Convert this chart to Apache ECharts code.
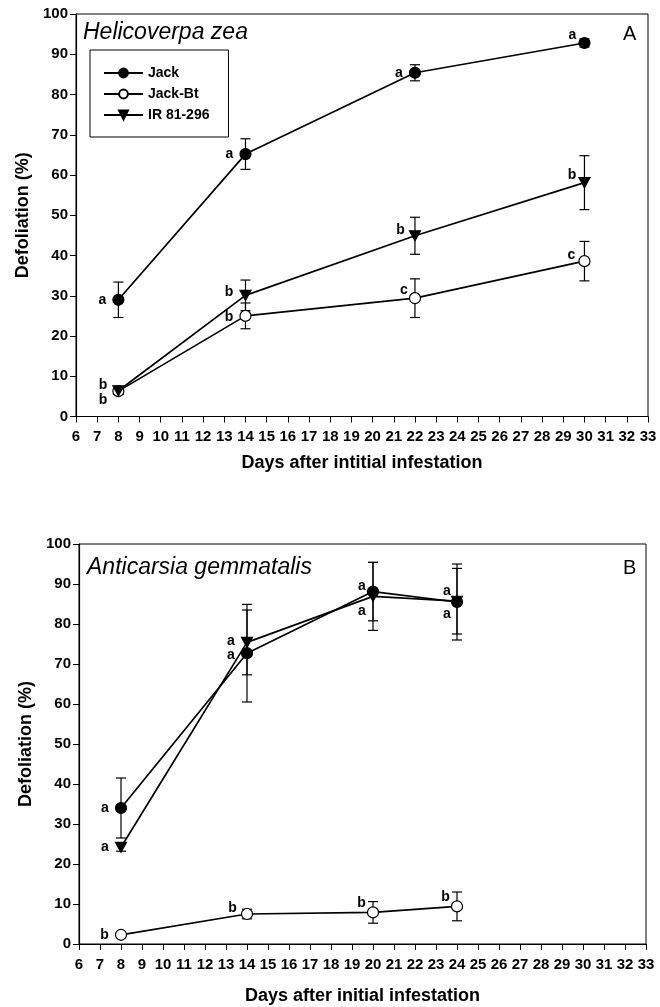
<!DOCTYPE html>
<html>
<head>
<meta charset="utf-8">
<script src="https://cdn.jsdelivr.net/npm/echarts@6/dist/echarts.min.js"></script>
<style>
  html, body { margin: 0; padding: 0; background: #fff; }
  #chart { width: 660px; height: 1007px; }
</style>
</head>
<body>
<div id="chart"></div>
<script>
// ---- data ----
var seriesNames = ['Jack', 'Jack-Bt', 'IR 81-296'];

// panel A: Helicoverpa zea
var daysA = [8, 14, 22, 30];
var jackA = [29.0, 65.2, 85.4, 92.8];
var jackErrA = [4.4, 3.8, 2.0, 1.0];
var jackLetA = ['a', 'a', 'a', 'a'];
var btA = [6.3, 25.0, 29.4, 38.6];
var btErrA = [0.8, 3.2, 4.8, 4.9];
var btLetA = ['b', 'b', 'c', 'c'];
var irA = [6.4, 30.1, 44.9, 58.1];
var irErrA = [0.8, 3.8, 4.6, 6.7];
var irLetA = ['b', 'b', 'b', 'b'];

// panel B: Anticarsia gemmatalis
var daysB = [8, 14, 20, 24];
var jackB = [34.0, 72.7, 88.1, 85.5];
var jackErrB = [7.5, 12.2, 7.3, 9.5];
var jackLetB = ['a', 'a', 'a', 'a'];
var btB = [2.3, 7.5, 7.9, 9.4];
var btErrB = [0.5, 1.2, 2.7, 3.6];
var btLetB = ['b', 'b', 'b', 'b'];
var irB = [24.2, 75.4, 86.9, 85.7];
var irErrB = [1.0, 8.1, 8.5, 8.2];
var irLetB = ['a', 'a', 'a', 'a'];

var yTicks = [0, 10, 20, 30, 40, 50, 60, 70, 80, 90, 100];

// ---- layout: where each significance letter sits relative to its point ----
var letOffA = {
    jack: [[0, 0], [0, 0], [0, 0], [4, -8]],
    bt: [[1, 9], [0, 1], [5, -8], [3, -6]],
    ir: [[1, -6], [0, -3], [2, -6], [4, -8]]
};
var letOffB = {
    jack: [[0, 0], [0, 2], [5, -5], [6, -11]],
    bt: [[0, 0], [2, -6], [5, -9], [5, -9]],
    ir: [[0, 0], [0, -1], [5, 15], [6, 13]]
};

var FONT = '"Liberation Sans", Arial, sans-serif';
var triDown = 'path://M0,0L10,0L5,9Z';

function points(days, vals, lets, offs) {
    return days.map(function (d, i) {
        return {
            value: [d, vals[i]],
            label: { formatter: lets[i], offset: offs[i] }
        };
    });
}

function errData(days, vals, errs) {
    return days.map(function (d, i) { return [d, vals[i], errs[i]]; });
}

function renderErr(params, api) {
    var x = api.value(0), y = api.value(1), e = api.value(2);
    var hi = api.coord([x, y + e]);
    var lo = api.coord([x, y - e]);
    var w = 5;
    var st = { stroke: '#000', lineWidth: 1.2 };
    return {
        type: 'group',
        children: [
            { type: 'line', shape: { x1: hi[0], y1: hi[1], x2: lo[0], y2: lo[1] }, style: st },
            { type: 'line', shape: { x1: hi[0] - w, y1: hi[1], x2: hi[0] + w, y2: hi[1] }, style: st },
            { type: 'line', shape: { x1: lo[0] - w, y1: lo[1], x2: lo[0] + w, y2: lo[1] }, style: st }
        ]
    };
}

function lineSeries(name, idx, data, symbol, fill) {
    return {
        name: name,
        type: 'line',
        xAxisIndex: idx,
        yAxisIndex: idx,
        data: data,
        symbol: symbol,
        symbolSize: symbol === triDown ? [11, 10] : 11,
        showAllSymbol: true,
        z: 3,
        lineStyle: { color: '#000', width: 1.7 },
        itemStyle: { color: fill, borderColor: '#000', borderWidth: 1.2 },
        label: {
            show: true,
            position: 'left',
            distance: 6,
            color: '#000',
            fontFamily: FONT,
            fontWeight: 'bold',
            fontSize: 14
        },
        emphasis: { disabled: true },
        animation: false
    };
}

function errSeries(idx, data) {
    return {
        type: 'custom',
        xAxisIndex: idx,
        yAxisIndex: idx,
        data: data,
        encode: { x: 0, y: 1 },
        renderItem: renderErr,
        z: 2,
        silent: true,
        animation: false
    };
}

function xAxis(idx, name, gap) {
    return {
        type: 'value',
        gridIndex: idx,
        min: 6,
        max: 33,
        interval: 1,
        name: name,
        nameLocation: 'middle',
        nameGap: gap,
        nameTextStyle: { color: '#000', fontFamily: FONT, fontWeight: 'bold', fontSize: 18 },
        axisLine: { lineStyle: { color: '#000', width: 1.2 } },
        axisTick: { show: true, inside: false, length: 6, lineStyle: { color: '#000' } },
        axisLabel: { color: '#000', fontFamily: FONT, fontWeight: 'bold', fontSize: 15, margin: 13 },
        splitLine: { show: false }
    };
}

function yAxis(idx) {
    return {
        type: 'value',
        gridIndex: idx,
        min: yTicks[0],
        max: yTicks[yTicks.length - 1],
        interval: 10,
        name: 'Defoliation (%)',
        nameLocation: 'middle',
        nameGap: 41,
        nameTextStyle: { color: '#000', fontFamily: FONT, fontWeight: 'bold', fontSize: 18 },
        axisLine: { show: true, lineStyle: { color: '#000', width: 1.2 } },
        axisTick: { show: true, inside: false, length: 6, lineStyle: { color: '#000' } },
        axisLabel: { color: '#000', fontFamily: FONT, fontWeight: 'bold', fontSize: 15, margin: 8 },
        splitLine: { show: false }
    };
}

var option = {
    backgroundColor: '#fff',
    animation: false,
    grid: [
        { left: 76, top: 14, width: 572, height: 402.5, show: true, borderColor: '#000', borderWidth: 1, backgroundColor: 'transparent' },
        { left: 79, top: 544, width: 567, height: 400, show: true, borderColor: '#000', borderWidth: 1, backgroundColor: 'transparent' }
    ],
    title: [
        { text: 'Helicoverpa zea', left: 83, top: 21, padding: 0,
          textStyle: { fontFamily: FONT, fontStyle: 'italic', fontWeight: 'normal', fontSize: 23, color: '#000' } },
        { text: 'Anticarsia gemmatalis', left: 87, top: 556, padding: 0,
          textStyle: { fontFamily: FONT, fontStyle: 'italic', fontWeight: 'normal', fontSize: 23, color: '#000' } },
        { text: 'A', left: 623, top: 24, padding: 0,
          textStyle: { fontFamily: FONT, fontWeight: 'normal', fontSize: 20, color: '#000' } },
        { text: 'B', left: 623, top: 558, padding: 0,
          textStyle: { fontFamily: FONT, fontWeight: 'normal', fontSize: 20, color: '#000' } }
    ],
    legend: {
        data: seriesNames,
        orient: 'vertical',
        left: 90,
        top: 50,
        padding: [16, 19, 15, 13],
        itemGap: 7,
        itemWidth: 39,
        itemHeight: 11,
        borderColor: '#000',
        borderWidth: 1,
        borderRadius: 0,
        selectedMode: false,
        textStyle: { color: '#000', fontFamily: FONT, fontWeight: 'bold', fontSize: 14 }
    },
    xAxis: [
        xAxis(0, 'Days after intitial infestation', 38),
        xAxis(1, 'Days after initial infestation', 43)
    ],
    yAxis: [yAxis(0), yAxis(1)],
    series: [
        errSeries(0, errData(daysA, jackA, jackErrA)),
        errSeries(0, errData(daysA, btA, btErrA)),
        errSeries(0, errData(daysA, irA, irErrA)),
        lineSeries('Jack-Bt', 0, points(daysA, btA, btLetA, letOffA.bt), 'circle', '#fff'),
        lineSeries('IR 81-296', 0, points(daysA, irA, irLetA, letOffA.ir), triDown, '#000'),
        lineSeries('Jack', 0, points(daysA, jackA, jackLetA, letOffA.jack), 'circle', '#000'),

        errSeries(1, errData(daysB, jackB, jackErrB)),
        errSeries(1, errData(daysB, btB, btErrB)),
        errSeries(1, errData(daysB, irB, irErrB)),
        lineSeries('Jack-Bt', 1, points(daysB, btB, btLetB, letOffB.bt), 'circle', '#fff'),
        lineSeries('IR 81-296', 1, points(daysB, irB, irLetB, letOffB.ir), triDown, '#000'),
        lineSeries('Jack', 1, points(daysB, jackB, jackLetB, letOffB.jack), 'circle', '#000')
    ]
};

var chart = echarts.init(document.getElementById('chart'), null, { renderer: 'canvas' });
chart.setOption(option);
</script>
</body>
</html>
